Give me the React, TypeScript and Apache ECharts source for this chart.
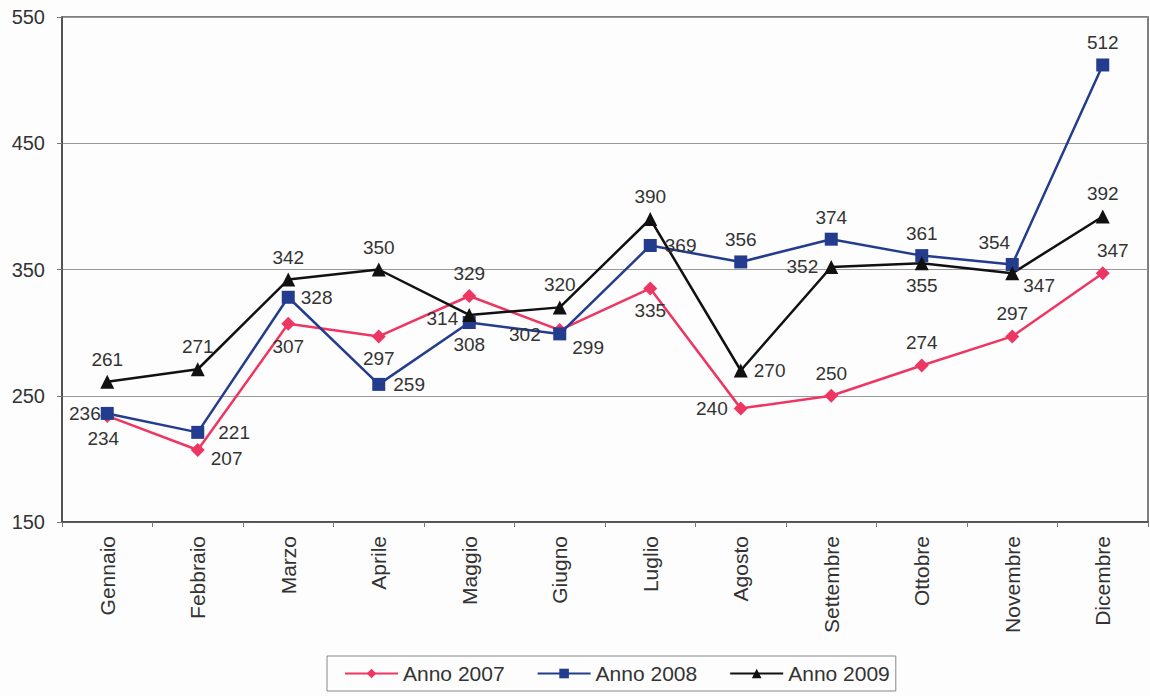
import React, { useEffect, useRef } from "react";
import * as echarts from "echarts";

const months = ["Gennaio", "Febbraio", "Marzo", "Aprile", "Maggio", "Giugno", "Luglio", "Agosto", "Settembre", "Ottobre", "Novembre", "Dicembre"];
const anno2007 = [234, 207, 307, 297, 329, 302, 335, 240, 250, 274, 297, 347];
const anno2008 = [236, 221, 328, 259, 308, 299, 369, 356, 374, 361, 354, 512];
const anno2009 = [261, 271, 342, 350, 314, 320, 390, 270, 352, 355, 347, 392];
const yTicks = { min: 150, max: 550, interval: 100 };

type LP = [string, number, number];
const lbl2007: LP[] = [["bottom", -4, 0], ["right", 0, 8], ["bottom", 0, 0], ["bottom", 0, 0], ["top", 0, 0], ["left", -6, 4], ["bottom", 0, 0], ["left", 0, 0], ["top", 0, 0], ["top", 0, 0], ["top", 0, 0], ["top", 10, 0]];
const lbl2008: LP[] = [["left", 6, 0], ["right", 8, 0], ["right", 0, 0], ["right", 2, 0], ["bottom", 0, 0], ["right", 0, 14], ["right", 2, 0], ["top", 0, 0], ["top", 0, 0], ["top", 0, 0], ["top", -18, 0], ["top", 0, 0]];
const lbl2009: LP[] = [["top", 0, 0], ["top", 0, 0], ["top", 0, 0], ["top", 0, 0], ["left", 2, 4], ["top", 0, 0], ["top", 0, 0], ["right", 0, 0], ["left", 0, 0], ["bottom", 0, 0], ["right", -2, 12], ["top", 0, 0]];

const FONT = "Liberation Sans";

function mkData(vals: number[], lbls: LP[]) {
  return vals.map((v, i) => ({
    value: v,
    label: { position: lbls[i][0] as any, offset: [lbls[i][1], lbls[i][2]] },
  }));
}

export default function App() {
  const ref = useRef<HTMLDivElement>(null);
  useEffect(() => {
    document.body.style.margin = "0";
    const chart = echarts.init(ref.current!, null, { renderer: "svg" });
    const labelBase = { show: true, color: "#333", fontFamily: FONT, fontSize: 19, distance: 6 };
    const mk = (name: string, vals: number[], lbls: LP[], color: string, symbol: string, size: number) => ({
      name,
      type: "line",
      data: mkData(vals, lbls),
      symbol,
      symbolSize: size,
      lineStyle: { color, width: 2.5 },
      itemStyle: { color },
      label: labelBase,
    });
    chart.setOption({
      animation: false,
      backgroundColor: "#fdfdfd",
      grid: { left: 62, right: 2, top: 17, bottom: 174, show: true, borderColor: "#555", borderWidth: 1.5, backgroundColor: "transparent" },
      legend: {
        left: 327,
        top: 656,
        padding: [7, 6, 7, 17],
        itemGap: 32,
        itemWidth: 53,
        itemHeight: 12,
        borderColor: "#888",
        borderWidth: 1,
        textStyle: { fontFamily: FONT, fontSize: 21, color: "#333" },
        data: ["Anno 2007", "Anno 2008", "Anno 2009"],
      },
      xAxis: {
        type: "category",
        data: months,
        boundaryGap: true,
        axisLine: { lineStyle: { color: "#444", width: 1.5 } },
        axisTick: { show: true, length: 5, lineStyle: { color: "#777" } },
        axisLabel: { rotate: 90, margin: 14, color: "#333", fontFamily: FONT, fontSize: 21 },
      },
      yAxis: {
        type: "value",
        min: yTicks.min,
        max: yTicks.max,
        interval: yTicks.interval,
        axisLine: { show: true, lineStyle: { color: "#444", width: 1.5 } },
        axisTick: { show: true, length: 5, lineStyle: { color: "#777" } },
        axisLabel: { margin: 17, color: "#333", fontFamily: FONT, fontSize: 20 },
        splitLine: { lineStyle: { color: "#999", width: 1 } },
      },
      series: [
        mk("Anno 2007", anno2007, lbl2007, "#EE3663", "diamond", 14),
        mk("Anno 2008", anno2008, lbl2008, "#233C8E", "rect", 13),
        mk("Anno 2009", anno2009, lbl2009, "#111111", "triangle", 14),
      ],
    });
    return () => chart.dispose();
  }, []);
  return <div ref={ref} style={{ width: 1150, height: 696 }} />;
}
